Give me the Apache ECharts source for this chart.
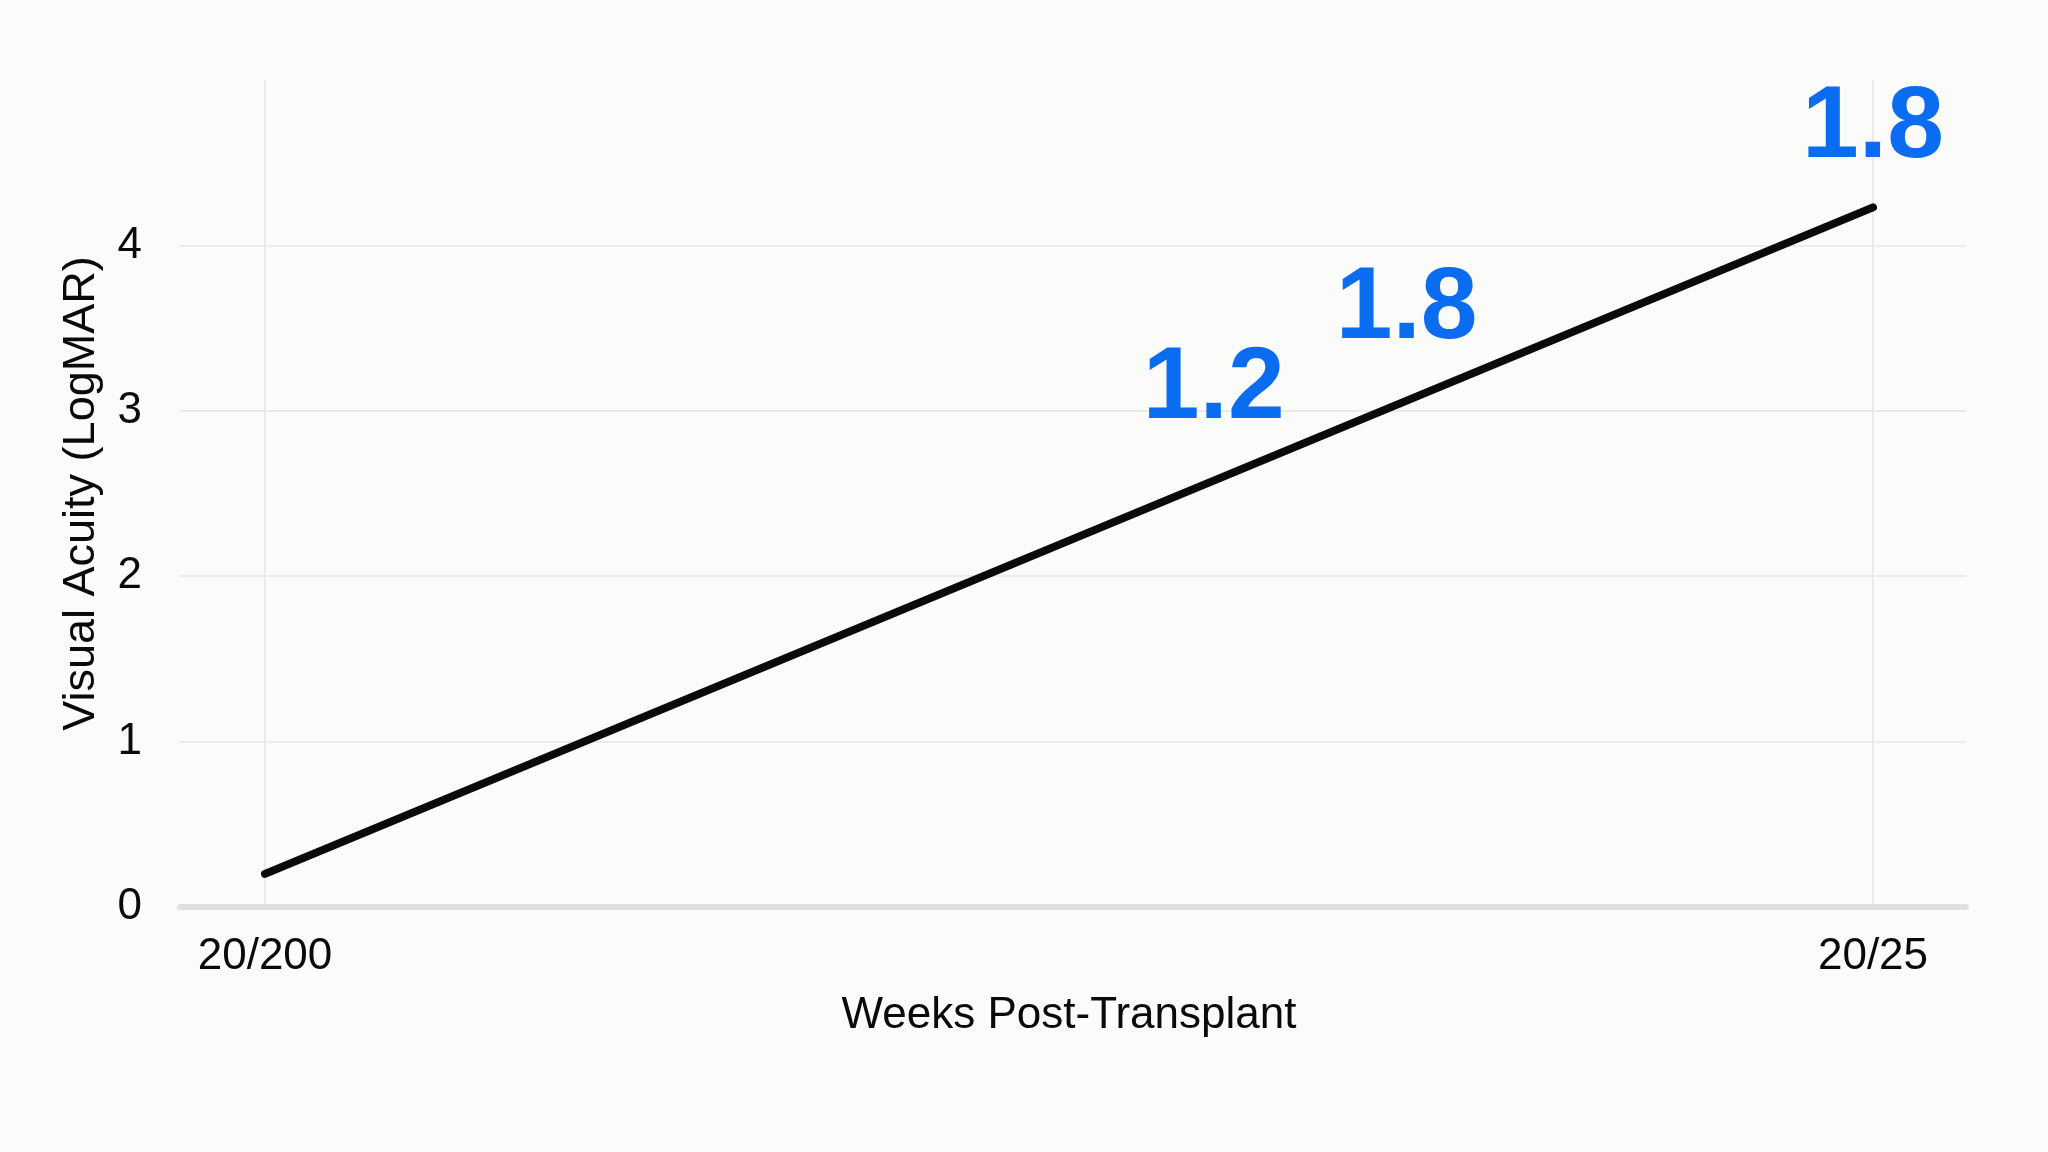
<!DOCTYPE html>
<html>
<head>
<meta charset="utf-8">
<script src="https://cdn.jsdelivr.net/npm/echarts@6/dist/echarts.min.js"></script>
<style>
html, body { margin: 0; padding: 0; background: #fbfbf9; }
#chart { width: 2048px; height: 1152px; }
</style>
</head>
<body>
<div id="chart"></div>
<script>
// x tick labels at the two ends of the time axis
const xTickLabels = ['20/200', '20/25'];
// main line
const lineX = [0, 1];
const lineY = [0.2, 4.23];
// blue annotations sitting on the line
const noteX = [0.59, 0.71, 1];
const noteY = [2.58, 3.06, 4.23];
const noteText = ['1.2', '1.8', '1.8'];
// how far each annotation is lifted above its point (px)
const noteLift = [-90, -91, -78];

const chart = echarts.init(document.getElementById('chart'));
const font = 'Liberation Sans, Arial, Helvetica, sans-serif';
const gridColor = '#ebebea';

const option = {
  backgroundColor: '#fbfbf9',
  animation: false,
  textStyle: { fontFamily: font },
  grid: [
    // wide grid: axis line + horizontal grid lines
    { left: 180, right: 82, top: 80, bottom: 245 },
    // data grid: between the two ticks
    { left: 265, right: 175, top: 80, bottom: 245 }
  ],
  xAxis: [
    {
      gridIndex: 0, type: 'value', min: 0, max: 1,
      axisLine: { show: true, lineStyle: { color: '#e0e0de', width: 6 } },
      axisTick: { show: false },
      axisLabel: { show: false },
      splitLine: { show: false }
    },
    {
      gridIndex: 1, type: 'value', min: 0, max: 1, interval: 1,
      name: 'Weeks Post-Transplant',
      nameLocation: 'middle',
      nameGap: 87,
      nameTextStyle: { fontSize: 44, color: '#0a0a0a', fontFamily: font },
      axisLine: { show: false },
      axisTick: { show: false },
      axisLabel: {
        margin: 28, fontSize: 44, color: '#0a0a0a',
        formatter: v => xTickLabels[v] || ''
      },
      splitLine: { show: true, lineStyle: { color: gridColor, width: 2 } }
    }
  ],
  yAxis: [
    {
      gridIndex: 0, type: 'value', min: 0, max: 5, interval: 1,
      name: 'Visual Acuity (LogMAR)',
      nameLocation: 'middle',
      nameGap: 76,
      nameTextStyle: { fontSize: 45, color: '#0a0a0a', fontFamily: font },
      axisLine: { show: false },
      axisTick: { show: false },
      axisLabel: { margin: 38, fontSize: 44, color: '#0a0a0a', showMaxLabel: false },
      splitLine: {
        show: true, showMinLine: false, showMaxLine: false,
        lineStyle: { color: gridColor, width: 2 }
      }
    },
    {
      gridIndex: 1, type: 'value', min: 0, max: 5, interval: 1, show: false
    }
  ],
  series: [
    {
      type: 'line',
      xAxisIndex: 1, yAxisIndex: 1,
      data: lineX.map((x, i) => [x, lineY[i]]),
      symbol: 'none',
      lineStyle: { color: '#0a0a0a', width: 8, cap: 'round' },
      z: 3
    },
    {
      type: 'scatter',
      xAxisIndex: 1, yAxisIndex: 1,
      symbolSize: 0,
      itemStyle: { color: '#0a6cf0', opacity: 1 },
      data: noteX.map((x, i) => ({
        value: [x, noteY[i]],
        label: { offset: [0, noteLift[i]] }
      })),
      label: {
        show: true,
        position: 'inside',
        formatter: p => noteText[p.dataIndex],
        fontSize: 102,
        fontWeight: 'bold',
        color: '#0a6cf0',
        textBorderWidth: 0,
        opacity: 1,
        fontFamily: font
      },
      z: 4
    }
  ]
};

chart.setOption(option);
</script>
</body>
</html>
